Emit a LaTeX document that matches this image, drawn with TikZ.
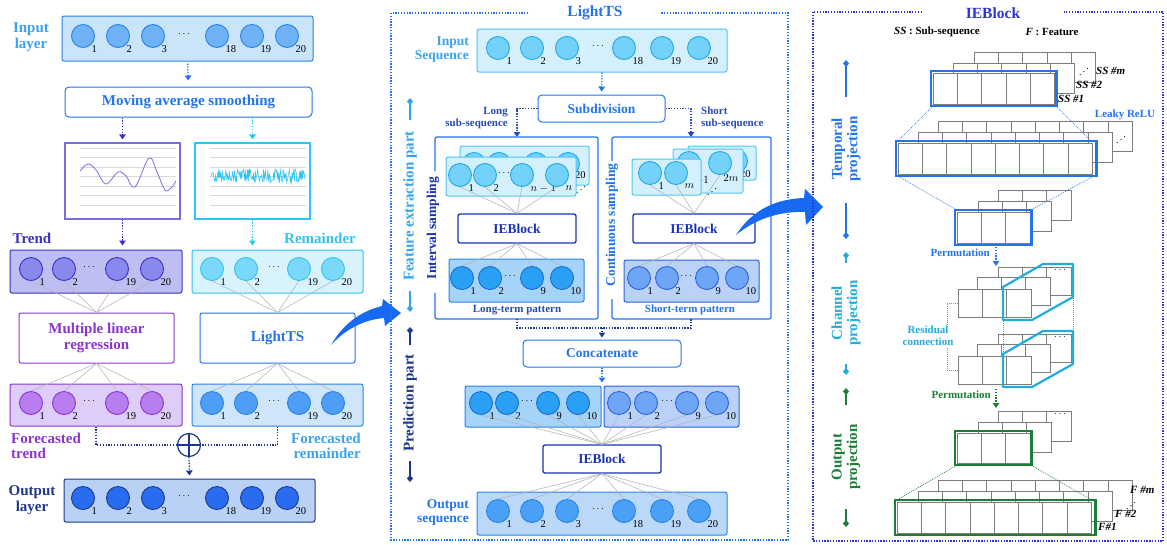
\documentclass[tikz,border=0pt]{standalone}
\usepackage{fontspec}
\setmainfont{Liberation Serif}
\usetikzlibrary{arrows.meta}

\definecolor{skyt}{RGB}{58,162,242}
\definecolor{skyfill}{RGB}{202,229,250}
\definecolor{skycirc}{RGB}{112,178,246}
\definecolor{skyline}{RGB}{40,130,235}
\definecolor{mainblue}{RGB}{35,115,235}
\definecolor{trendc}{RGB}{58,48,200}
\definecolor{trendfill}{RGB}{190,190,243}
\definecolor{trendcirc}{RGB}{136,136,237}
\definecolor{trendchart}{RGB}{120,110,225}
\definecolor{remc}{RGB}{48,196,240}
\definecolor{remfill}{RGB}{216,243,252}
\definecolor{remcirc}{RGB}{122,216,250}
\definecolor{purp}{RGB}{138,52,208}
\definecolor{ftfill}{RGB}{222,205,248}
\definecolor{ftcirc}{RGB}{184,126,240}
\definecolor{frfill}{RGB}{206,229,250}
\definecolor{frcirc}{RGB}{78,158,245}
\definecolor{navy}{RGB}{28,55,140}
\definecolor{outfill}{RGB}{186,209,246}
\definecolor{outcirc}{RGB}{42,108,240}
\definecolor{iedark}{RGB}{22,50,178}
\definecolor{seqfill}{RGB}{212,240,252}
\definecolor{seqline}{RGB}{80,198,245}
\definecolor{seqcirc}{RGB}{116,210,250}
\definecolor{seqcircl}{RGB}{32,168,230}
\definecolor{ltfill}{RGB}{166,211,248}
\definecolor{ltcirc}{RGB}{42,160,245}
\definecolor{ltline}{RGB}{22,110,212}
\definecolor{stfill}{RGB}{186,210,248}
\definecolor{stcirc}{RGB}{110,166,245}
\definecolor{stline}{RGB}{42,98,222}
\definecolor{osfill}{RGB}{188,216,249}
\definecolor{oscirc}{RGB}{74,160,245}
\definecolor{linkgray}{RGB}{178,178,178}
\definecolor{cellgray}{RGB}{125,125,125}
\definecolor{chanc}{RGB}{34,172,222}
\definecolor{outgreen}{RGB}{28,125,55}
\definecolor{ieframe}{RGB}{45,50,215}
\definecolor{arrowblue}{RGB}{22,105,240}
\definecolor{subdark}{RGB}{40,75,180}
\definecolor{featc}{RGB}{50,165,240}

% a row of neurons: name prefix, y, list x/label, circle colours
\newcommand{\neurons}[4]{%
  \foreach \x/\l [count=\i] in {#3}{
    \node[neuron,#4] (#1\i) at (\x,#2) {};
    \node[num,anchor=west] at (\x+8.5,#2+13.5) {\l};
  }}
% a row of cells: left, top, number of cells, height
\newcommand{\cellrow}[4]{%
  \foreach \k in {1,...,#3}
    \draw[cell] ({#1+(\k-1)*24.3},#2) rectangle ++(24.3,#4);}

\begin{document}
\begin{tikzpicture}[x=1pt, y=-1pt,
  box/.style={draw, rounded corners=2pt, line width=1pt, inner sep=0pt},
  neuron/.style={circle, draw, line width=0.9pt, minimum size=23pt, inner sep=0pt},
  num/.style={font=\fontsize{10.5}{10.5}\selectfont, inner sep=0pt},
  dots/.style={font=\fontsize{10}{10}\selectfont, inner sep=0pt},
  link/.style={draw=linkgray, line width=0.55pt},
  dotln/.style={line width=1.3pt, dash pattern=on 1.3pt off 1.5pt},
  dotarr/.style={dotln, -{Triangle[length=5pt,width=6.5pt]}},
  fineline/.style={line width=0.6pt, dash pattern=on 1pt off 1pt},
  tbig/.style={font=\bfseries\fontsize{15}{15.5}\selectfont, align=center, inner sep=0pt},
  tmid/.style={font=\bfseries\fontsize{13.5}{14}\selectfont, align=center, inner sep=0pt},
  tsmall/.style={font=\bfseries\fontsize{11}{12}\selectfont, align=center, inner sep=0pt},
  cell/.style={draw=cellgray, fill=white, line width=0.7pt},
  hl/.style={line width=2.2pt},
  ends/.style={line width=1.3pt, {Diamond[length=7pt,width=6pt]}-}
]
\useasboundingbox (0,0) rectangle (1167,544);

% ---------------- left: decomposition ----------------
\node[tbig, text=skyt] (inlab) at (31,37) {Input\\layer};
\node[box, draw=skyline, fill=skyfill, minimum width=251pt, minimum height=45pt] (inlayer) at (187.5,38.5) {};
\neurons{in}{36}{83/1,118/2,153/3,217/18,252/19,287/20}{fill=skycirc, draw=skyline}
\node[dots] at (184,34) {$\cdots$};

\node[box, rounded corners=4pt, draw=mainblue, minimum width=247pt, minimum height=30pt, tbig, text=mainblue] (mas) at (188.5,102) {Moving average smoothing};
\draw[dotarr, mainblue, shorten >=6pt, shorten <=2pt] (inlayer.south) -- (mas.north);

% the two curves
\node[draw=trendchart, line width=1.2pt, minimum width=115pt, minimum height=76pt, inner sep=0pt] (chtr) at (122.5,181) {};
\node[draw=remc, line width=1.2pt, minimum width=115pt, minimum height=76pt, inner sep=0pt] (chrem) at (252.5,181) {};
\foreach \gy in {148,157.5,167,176.5,186,195.5,205}{
  \draw[gray!30, line width=0.3pt] (80,\gy) -- (176,\gy);
  \draw[gray!30, line width=0.3pt] (210,\gy) -- (306,\gy);
}
\draw[trendchart, line width=0.8pt] plot[smooth, tension=0.6] coordinates {(80,171) (88,164) (96,170) (106,184) (118,172) (126,176) (135,187) (149,158) (157,172) (165,190) (171,188) (176,181)};
\pgfmathsetseed{11}
\draw[remc, line width=0.6pt] plot[domain=211:305, samples=160] (\x,{176+7*rand});
\draw[dotarr, trendc, shorten >=3pt] (mas.south -| chtr) -- (chtr.north);
\draw[dotarr, remc, shorten >=3pt] (mas.south -| chrem) -- (chrem.north);

\node[tbig, text=trendc] (trlab) at (32,238) {Trend};
\node[tbig, text=remc] (remlab) at (320,238) {Remainder};
\node[box, draw=trendc, fill=trendfill, minimum width=172pt, minimum height=43pt] (trbox) at (96,271.5) {};
\neurons{tr}{269}{31/1,64/2,117/19,152/20}{fill=trendcirc, draw=trendc}
\node[dots] at (89,267) {$\cdots$};
\node[box, draw=remc, fill=remfill, minimum width=171pt, minimum height=43pt] (rembox) at (277.5,271.5) {};
\neurons{rm}{269}{212/1,246/2,299/19,333/20}{fill=remcirc, draw=remc}
\node[dots] at (274,267) {$\cdots$};
\draw[dotarr, trendc, shorten >=4pt] (chtr.south) -- (chtr.south |- trbox.north);
\draw[dotarr, remc, shorten >=4pt] (chrem.south) -- (chrem.south |- rembox.north);

\node[box, draw=purp, minimum width=155pt, minimum height=50pt, tbig, text=purp] (mlr) at (96.5,338) {Multiple linear\\regression};
\node[box, draw=mainblue, minimum width=155pt, minimum height=50pt, tbig, text=mainblue] (lts) at (277.5,338) {LightTS};
\foreach \i in {1,...,4}{
  \draw[link] (tr\i.south) -- (mlr.north);
  \draw[link] (rm\i.south) -- (lts.north);
}

\node[box, draw=purp, fill=ftfill, minimum width=172pt, minimum height=42pt] (ftbox) at (96,405) {};
\neurons{ft}{403}{31/1,64/2,117/19,152/20}{fill=ftcirc, draw=purp}
\node[dots] at (89,401) {$\cdots$};
\node[box, draw=skyline, fill=frfill, minimum width=171pt, minimum height=42pt] (frbox) at (277.5,405) {};
\neurons{fr}{403}{212/1,246/2,299/19,333/20}{fill=frcirc, draw=skyline}
\node[dots] at (274,401) {$\cdots$};
\foreach \i in {1,...,4}{
  \draw[link] (mlr.south) -- (ft\i.north);
  \draw[link] (lts.south) -- (fr\i.north);
}
\node[tbig, text=purp, align=left, anchor=west] (ftlab) at (11,446) {Forecasted\\trend};
\node[tbig, text=skyt, align=right, anchor=east] (frlab) at (361,446) {Forecasted\\remainder};

\node[circle, draw=navy, line width=1.2pt, minimum size=23pt, inner sep=0pt, fill=white] (plus) at (189,445) {};
\draw[navy, line width=1.3pt] (plus.north) -- (plus.south) (plus.west) -- (plus.east);
\draw[dotln, navy] (ftbox.south) |- (plus.west);
\draw[dotln, navy] (frbox.south) |- (plus.east);

\node[tbig, text=navy] (outlab) at (32,500) {Output\\layer};
\node[box, draw=navy, fill=outfill, minimum width=251pt, minimum height=43pt] (outlayer) at (189.5,500.5) {};
\neurons{ol}{498}{83/1,118/2,153/3,217/18,252/19,287/20}{fill=outcirc, draw=navy}
\node[dots] at (184,496) {$\cdots$};
\draw[dotarr, navy, shorten >=3pt] (plus.south) -- (outlayer.north);

\fill[arrowblue] (331,345) .. controls (342,326) and (358,312) .. (382,306) -- (383,299) -- (401,313) -- (385,326) -- (384,318) .. controls (362,320) and (345,330) .. (331,345) -- cycle;

% ---------------- middle: LightTS ----------------
\draw[dotln, mainblue] (391,13) rectangle (788,540);
\node[fill=white, minimum width=132pt, minimum height=12pt, font=\bfseries\fontsize{15.5}{16}\selectfont, text=mainblue, inner sep=0pt] (ltstitle) at (595,13) {LightTS};

\node[tmid, text=skyt, align=right, anchor=east] (isqlab) at (469,50) {Input\\Sequence};
\node[box, draw=seqline, fill=seqfill, minimum width=250pt, minimum height=43pt] (inseq) at (602,50.5) {};
\neurons{is}{48}{498/1,532/2,567/3,624/18,662/19,699/20}{fill=seqcirc, draw=seqcircl}
\node[dots] at (598,46) {$\cdots$};

\node[box, rounded corners=4pt, draw=mainblue, minimum width=127pt, minimum height=27pt, tmid, text=mainblue] (subdiv) at (601.5,108.5) {Subdivision};
\draw[dotarr, mainblue, shorten >=3pt] (inseq.south) -- (subdiv.north);
\coordinate (lpan) at (517,137);
\coordinate (span) at (691,137);
\draw[dotarr, subdark] (subdiv.west) -| (lpan);
\draw[dotarr, subdark] (subdiv.east) -| (span);
\node[tsmall, text=subdark, align=right, anchor=east] (longlab) at (508,118) {Long\\sub-sequence};
\node[tsmall, text=subdark, align=left, anchor=west] (shortlab) at (701,118) {Short\\sub-sequence};

% interval sampling panel
\draw[mainblue, line width=1.2pt, rounded corners=2pt] (435,171) -- (435,137) -- (598,137) -- (598,319) -- (435,319) -- (435,293);
\node[tmid, text=iedark, rotate=90] (intlab) at (433,228) {Interval sampling};
\node[box, draw=seqline, fill=seqfill, minimum width=129pt, minimum height=39pt] (lback) at (524.5,165.5) {};
\foreach \x in {474,499,536,568} \node[neuron, fill=seqcirc, draw=seqcircl] at (\x,164) {};
\node[num, anchor=west] at (575,175) {20};
\node[dots] at (581,187) {\reflectbox{$\ddots$}};
\node[box, draw=seqline, fill=seqfill, minimum width=130pt, minimum height=39pt] (lfront) at (511,176.5) {};
\neurons{lf}{175}{460/1,485/2,522/$n-1$,557/$n$}{fill=seqcirc, draw=seqcircl}
\node[dots] at (504,173) {$\cdots$};
\node[box, draw=iedark, line width=1.3pt, minimum width=118pt, minimum height=29pt, tmid, text=iedark] (iel) at (517,228.5) {IEBlock};
\foreach \i in {1,...,4} \draw[link] (lf\i.south) -- (iel.north);
\node[box, draw=skyline, fill=ltfill, minimum width=135pt, minimum height=43pt] (ltbox) at (516.5,280.5) {};
\neurons{lt}{278}{462/1,490/2,532/9,562/10}{fill=ltcirc, draw=ltline}
\node[dots] at (510,276) {$\cdots$};
\foreach \i in {1,...,4} \draw[link] (iel.south) -- (lt\i.north);
\node[tsmall, text=subdark] (ltlab) at (517,310) {Long-term pattern};

% continuous sampling panel
\draw[mainblue, line width=1.2pt, rounded corners=2pt] (612,161) -- (612,137) -- (771,137) -- (771,319) -- (612,319) -- (612,299);
\node[tmid, text=mainblue, rotate=90] (conlab) at (612,225) {Continuous sampling};
\node[box, draw=seqline, fill=seqfill, minimum width=68pt, minimum height=34pt] (sback) at (722,163) {};
\node[neuron, fill=seqcirc, draw=seqcircl] at (736,161) {};
\node[num, anchor=west] at (740,174) {20};
\node[box, draw=seqline, fill=seqfill, minimum width=70pt, minimum height=44pt] (smid) at (708,171) {};
\node[neuron, fill=seqcirc, draw=seqcircl] (sm1) at (689,163) {};
\node[neuron, fill=seqcirc, draw=seqcircl] (sm2) at (720,163) {};
\node[num, anchor=east] at (709,180) {$+1$};
\node[num] at (731,178) {$2m$};
\node[dots] at (712,189) {\reflectbox{$\ddots$}};
\node[box, draw=seqline, fill=seqfill, minimum width=69pt, minimum height=36pt] (sfront) at (666.5,177) {};
\neurons{sf}{173}{650/1,676/$m$}{fill=seqcirc, draw=seqcircl}
\node[box, draw=iedark, line width=1.3pt, minimum width=122pt, minimum height=29pt, tmid, text=iedark] (ier) at (694,228.5) {IEBlock};
\draw[link] (sf1.south) -- (ier.north);
\draw[link] (sf2.south) -- (ier.north);
\draw[link] (sm2.south) -- (ier.north);
\node[box, draw=stline, fill=stfill, minimum width=135pt, minimum height=42pt] (stbox) at (691.5,281) {};
\neurons{st}{278}{639/1,667/2,707/9,737/10}{fill=stcirc, draw=stline}
\node[dots] at (686,276) {$\cdots$};
\foreach \i in {1,...,4} \draw[link] (ier.south) -- (st\i.north);
\node[tsmall, text=mainblue] (stlab) at (690,310) {Short-term pattern};

% prediction part
\coordinate (lbot) at (517,319);
\coordinate (rbot) at (691,319);
\coordinate (cjoin) at (602,328);
\draw[dotln, navy] (lbot) |- (cjoin) -| (rbot);
\node[box, rounded corners=4pt, draw=mainblue, minimum width=158pt, minimum height=27pt, tmid, text=mainblue] (concat) at (602,353.5) {Concatenate};
\draw[dotarr, navy, shorten >=2pt] (cjoin) -- (concat.north);
\node[box, draw=skyline, fill=ltfill, minimum width=136pt, minimum height=41pt] (cl) at (533,406.5) {};
\neurons{ca}{403}{481/1,507/2,548/9,578/10}{fill=ltcirc, draw=ltline}
\node[dots] at (527,401) {$\cdots$};
\node[box, draw=stline, fill=stfill, minimum width=135pt, minimum height=41pt] (cr) at (671.5,406.5) {};
\neurons{cb}{403}{619/1,646/2,687/9,717/10}{fill=stcirc, draw=stline}
\node[dots] at (667,401) {$\cdots$};
\draw[dotarr, mainblue, shorten >=3pt] (concat.south) -- (concat.south |- cl.north);
\node[box, draw=iedark, line width=1.3pt, minimum width=118pt, minimum height=28pt, tmid, text=iedark] (iep) at (602,459) {IEBlock};
\foreach \i in {1,...,4}{
  \draw[link] (ca\i.south) -- (iep.north);
  \draw[link] (cb\i.south) -- (iep.north);
}
\node[tmid, text=mainblue, align=right, anchor=east] (osqlab) at (469,512) {Output\\sequence};
\node[box, draw=skyline, fill=osfill, minimum width=250pt, minimum height=43pt] (outseq) at (602,513.5) {};
\neurons{os}{511}{498/1,532/2,567/3,624/18,662/19,699/20}{fill=oscirc, draw=skyline}
\node[dots] at (598,509) {$\cdots$};
\foreach \i in {1,...,6} \draw[link] (iep.south) -- (os\i.north);

% part markers
\draw[ends, featc] (410,98) -- (410,120);
\node[font=\bfseries\fontsize{15}{15}\selectfont, text=featc, rotate=90, inner sep=0pt] (featlab) at (410,206) {Feature extraction part};
\draw[ends, featc] (410,312) -- (410,291);
\draw[ends, navy] (410,327) -- (410,345);
\node[font=\bfseries\fontsize{15}{15}\selectfont, text=navy, rotate=90, inner sep=0pt] (predlab) at (410,403) {Prediction part};
\draw[ends, navy] (410,482) -- (410,461);

\fill[arrowblue] (736,235) .. controls (750,213) and (772,199) .. (804,198) -- (805,189) -- (823,207) -- (806,225) -- (805,212) .. controls (778,211) and (754,220) .. (736,235) -- cycle;

% ---------------- right: IEBlock ----------------
\draw[dotln, ieframe] (813,12) rectangle (1163,541);
\node[fill=white, minimum width=142pt, minimum height=12pt, font=\bfseries\fontsize{15.5}{16}\selectfont, text=ieframe, inner sep=0pt] (ietitle) at (993,13) {IEBlock};
\node[tsmall] (sslab) at (937,32) {\textit{SS} : Sub-sequence};
\node[tsmall] (flab) at (1052,32) {\textit{F} : Feature};

\draw[ends, mainblue] (846,60) -- (846,97);
\node[tbig, text=mainblue, rotate=90] (templab) at (846,149) {Temporal\\projection};
\draw[ends, mainblue] (846,239) -- (846,203);
\draw[ends, chanc] (846,252) -- (846,263);
\node[tbig, text=chanc, rotate=90] (chanlab) at (846,313) {Channel\\projection};
\draw[ends, chanc] (846,375) -- (846,364);
\draw[ends, outgreen] (846,388) -- (846,405);
\node[tbig, text=outgreen, rotate=90] (outplab) at (846,457) {Output\\projection};
\draw[ends, outgreen] (846,527) -- (846,509);

% temporal projection
\cellrow{974}{52}{5}{30}
\node[dots] at (1084,69) {\reflectbox{$\ddots$}};
\cellrow{953}{63}{5}{30}
\cellrow{933}{73}{5}{31}
\draw[hl, mainblue] (931,71) rectangle (1056.5,106);
\node[tsmall, anchor=west] at (1096,71) {\itshape SS \#m};
\node[tsmall, anchor=west] at (1076,85) {\itshape SS \#2};
\node[tsmall, anchor=west] at (1058,99) {\itshape SS \#1};

\cellrow{938}{121}{8}{30}
\node[dots] at (1121,137) {\reflectbox{$\ddots$}};
\cellrow{918}{132}{8}{30}
\cellrow{898}{143}{8}{31}
\draw[hl, mainblue] (896,141) rectangle (1096.5,176);
\node[tsmall, text=mainblue] (relu) at (1125,115) {Leaky ReLU};
\draw[fineline, mainblue] (933,106) -- (898,141);
\draw[fineline, mainblue] (1056,106) -- (1091,141);

\cellrow{998}{190}{3}{30}
\cellrow{978}{201}{3}{30}
\cellrow{957}{212}{3}{31}
\draw[hl, mainblue] (955,210) rectangle (1031.5,245);
\draw[fineline, mainblue] (898,176) -- (957,210);
\draw[fineline, mainblue] (1094,176) -- (1031,210);

\node[tsmall, text=mainblue, anchor=east] (perm1) at (990,253) {Permutation};
\draw[dotarr, mainblue] (996,247) -- (996,266);

% channel projection
\cellrow{998}{267}{3}{28}
\node[dots] at (1060,270) {$\cdots$};
\cellrow{977}{277}{3}{28}
\cellrow{958}{289}{3}{28}
\draw[hl, chanc, line join=round] (1003,320) -- (1003,287) -- (1043,264) -- (1073,264) -- (1073,297) -- (1032,320) -- cycle;

\cellrow{998}{334}{3}{28}
\node[dots] at (1060,337) {$\cdots$};
\cellrow{977}{344}{3}{28}
\cellrow{958}{356}{3}{28}
\draw[hl, chanc, line join=round] (1003,387) -- (1003,354) -- (1043,331) -- (1073,331) -- (1073,364) -- (1032,387) -- cycle;
\draw[fineline, chanc] (1003,321) -- (1003,353);
\draw[fineline, chanc] (1073,298) -- (1073,330);
\draw[fineline, chanc] (958,303) -- (947,303) -- (947,370) -- (958,370);
\node[tsmall, text=chanc, fill=white, inner sep=1pt] (resid) at (928,336) {Residual\\connection};

\node[tsmall, text=outgreen, anchor=east] (perm2) at (991,395) {Permutation};
\draw[dotarr, outgreen] (996,389) -- (996,408);

% output projection
\cellrow{998}{411}{3}{30}
\node[dots] at (1060,414) {$\cdots$};
\cellrow{978}{422}{3}{30}
\cellrow{957}{433}{3}{30}
\draw[hl, outgreen] (955,431) rectangle (1031.5,465);

\cellrow{938}{480}{8}{30}
\cellrow{918}{491}{8}{30}
\cellrow{897}{502}{8}{31}
\draw[hl, outgreen] (895,500) rectangle (1095.5,535);
\draw[fineline, outgreen] (957,465) -- (897,500);
\draw[fineline, outgreen] (1031,465) -- (1092,500);
\node[tsmall, anchor=west] at (1130,490) {\itshape F \#m};
\node[dots] at (1131,503) {\reflectbox{$\ddots$}};
\node[tsmall, anchor=west] at (1115,514) {\itshape F \#2};
\node[tsmall, anchor=west] at (1098,527) {\itshape F\#1};
\end{tikzpicture}
\end{document}
